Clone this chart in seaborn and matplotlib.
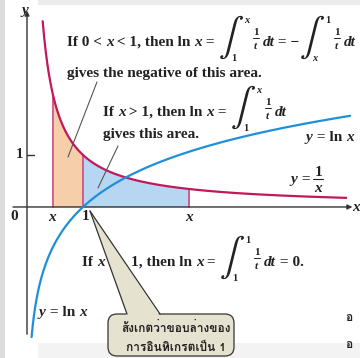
import numpy as np
import pandas as pd
import matplotlib
matplotlib.use("Agg")
import matplotlib.pyplot as plt
from matplotlib import font_manager
from matplotlib.ft2font import FT2Font
from matplotlib.font_manager import FontProperties
from matplotlib.textpath import TextPath
from matplotlib.patches import FancyBboxPatch, Polygon, Rectangle
import seaborn as sns

# Curve domains and the two shaded intervals
recip_domain = [0.28, 5.7]
log_domain = [0.082, 5.77]
left_area = [0.47, 1.0]     # 0 < x < 1  -> ln x is minus this area
right_area = [1.0, 2.9]     # x > 1      -> ln x is this area
y_tick_values = [1]
y_tick_labels = ["1"]

curve_colors = {"1/x": "#c2185b", "ln x": "#1e90d8"}
fill_left = "#f6cfaa"
fill_right = "#b7d6f2"
edge_pink = "#d4508c"
ink = "#222222"

sns.set_theme(style="white")
plt.rcParams["font.family"] = ["Liberation Serif", "DejaVu Serif"]
plt.rcParams["mathtext.fontset"] = "stix"


def find_thai_font():
    for f in font_manager.fontManager.ttflist:
        try:
            cmap = FT2Font(f.fname).get_charmap()
        except Exception:
            continue
        if 0x0E2A in cmap and 0x0E48 in cmap:
            return f.name
    return "DejaVu Sans"


thai_family = [find_thai_font(), "Liberation Serif", "DejaVu Sans"]

t_recip = np.linspace(recip_domain[0], recip_domain[1], 400)
t_log = np.geomspace(log_domain[0], log_domain[1], 400)
df = pd.concat([
    pd.DataFrame({"t": t_recip, "y": 1.0 / t_recip, "curve": "1/x"}),
    pd.DataFrame({"t": t_log, "y": np.log(t_log), "curve": "ln x"}),
])

W, H = 360, 358
fig = plt.figure(figsize=(W / 100, H / 100), dpi=100)
fig.patch.set_facecolor("white")
ax = fig.add_axes([0, 0, 1, 1])
renderer = fig.canvas.get_renderer()


def P(px, py):
    return (px / W, 1 - py / H)


# slide frame bits
fig.patches.append(Rectangle(P(38, 5), 322 / W, 5 / H, transform=fig.transFigure,
                             facecolor="#ebebeb", edgecolor="none", zorder=0))
fig.patches.append(Rectangle(P(0, H), 5 / W, 1, transform=fig.transFigure,
                             facecolor="#dcdcdc", edgecolor="none", zorder=0))
fig.patches.append(Rectangle(P(38, H), 322 / W, 15 / H, transform=fig.transFigure,
                             facecolor="#f3f3f3", edgecolor="none", zorder=0))

# shaded areas under 1/x
xl = np.linspace(left_area[0], left_area[1], 100)
xr = np.linspace(right_area[0], right_area[1], 200)
ax.fill_between(xl, 0, 1 / xl, color=fill_left, lw=0, zorder=1)
ax.fill_between(xr, 0, 1 / xr, color=fill_right, lw=0, zorder=1)
for xv in (left_area[0], left_area[1], right_area[1]):
    ax.plot([xv, xv], [0, 1 / xv], color=edge_pink, lw=1.3, zorder=2)

# axes with arrows
ax.annotate("", xy=(5.86, 0), xytext=(-0.3, 0),
            arrowprops=dict(arrowstyle="-|>", color="#333333", lw=1.0,
                            mutation_scale=7), zorder=3)
ax.annotate("", xy=(0, 3.83), xytext=(0, -2.5),
            arrowprops=dict(arrowstyle="-|>", color="#333333", lw=1.0,
                            mutation_scale=7), zorder=3)
for v, lab in zip(y_tick_values, y_tick_labels):
    ax.plot([0, 0.12], [v, v], color="#333333", lw=1.0, zorder=3)
    ax.text(-0.13, v, lab, ha="center", va="center", fontsize=10.5,
            fontweight="bold", color=ink)

sns.lineplot(data=df, x="t", y="y", hue="curve", palette=curve_colors,
             legend=False, ax=ax, lw=1.6, sort=False, zorder=4,
             estimator=None)
ax.set_xlabel("")
ax.set_ylabel("")
ax.set_xlim(-0.482, 5.946)
ax.set_ylim(-2.904, 3.98)
ax.axis("off")

FS = 11
INT_PROP = FontProperties(family="STIXGeneral")
_ib = TextPath((0, 0), "\u222b", size=1, prop=INT_PROP).get_extents()
INT_H = 43.0                       # ink height of an integral sign, px
INT_S = INT_H / _ib.height         # px per em
INT_W = _ib.width * INT_S


def put(px, py, s, size=FS, italic=False, ha="left", va="baseline", **kw):
    kw.setdefault("fontweight", "bold")
    t = fig.text(*P(px, py), s, ha=ha, va=va, fontsize=size,
                 fontstyle="italic" if italic else "normal",
                 color=ink, transform=fig.transFigure, **kw)
    return t


def width(t):
    return t.get_window_extent(renderer).width


def hline(x0, x1, y, lw=0.7):
    fig.lines.append(plt.Line2D([P(x0, 0)[0], P(x1, 0)[0]], [P(0, y)[1]] * 2,
                                transform=fig.transFigure, color=ink, lw=lw))


def integral(left, base, lower, upper):
    top = base - 30
    origin_x = left - _ib.x0 * INT_S
    origin_y = top + _ib.y1 * INT_S
    fig.text(*P(origin_x, origin_y), "\u222b", ha="left", va="baseline",
             fontsize=INT_S * 72 / 100, color=ink, family="STIXGeneral",
             transform=fig.transFigure)
    put(left + INT_W + 4, base - 23, upper, size=7.5, italic=(upper == "x"),
        ha="center")
    put(left + INT_W * 0.45 + 4, base + 15, lower, size=7.5,
        italic=(lower == "x"), ha="center")
    return INT_W


def formula(px, base, parts):
    """Lay out a run of text, italic symbols, integrals and 1/t fractions."""
    x = px
    for part in parts:
        kind = part[0]
        if kind in ("t", "i"):
            t = put(x, base, part[1], italic=(kind == "i"))
            x += width(t)
        elif kind == "int":
            w = integral(x + 1, base, part[1], part[2])
            x += w + 10
        elif kind == "frac":
            cx = x + 4
            put(cx, base - 11, "1", size=8, ha="center")
            put(cx, base + 3, "t", size=8, italic=True, ha="center")
            hline(cx - 3, cx + 3, base - 8)
            x += 10
        elif kind == "sp":
            x += part[1]
    return x


# axis labels
put(25, 14, "y", italic=True, ha="center")
put(352, 211, "x", italic=True)
put(14, 220, "0", ha="center")
put(52, 221, "x", italic=True, ha="center")
put(86, 220, "1", ha="center")
put(189, 221, "x", italic=True, ha="center")

formula(67, 46, [("t", "If 0 < "), ("i", "x"), ("t", " < 1, then ln "),
                 ("i", "x"), ("t", " = "), ("int", "1", "x"), ("frac",),
                 ("sp", 1), ("i", "dt"), ("t", " = \u2212"), ("int", "x", "1"),
                 ("frac",), ("sp", 1), ("i", "dt")])
put(67, 77, "gives the negative of this area.")
formula(103, 116, [("t", "If "), ("i", "x"), ("t", " > 1, then ln "),
                   ("i", "x"), ("t", " = "), ("int", "1", "x"), ("frac",),
                   ("sp", 1), ("i", "dt")])
put(103, 138, "gives this area.")
formula(82, 266, [("t", "If "), ("i", "x"), ("sp", 5), ("t", " = "), ("sp", 5),
                  ("t", "1, then ln "), ("i", "x"), ("t", " = "),
                  ("int", "1", "1"), ("frac",), ("sp", 1), ("i", "dt"),
                  ("t", " = 0.")])

formula(306, 141, [("i", "y"), ("t", " = ln "), ("i", "x")])
xe = formula(291, 183, [("i", "y"), ("t", " = ")])
put(xe + 4, 176, "1", ha="center")
put(xe + 4, 192, "x", italic=True, ha="center")
hline(xe - 1, xe + 9, 179, lw=0.8)
formula(39, 316, [("i", "y"), ("t", " = ln "), ("i", "x")])

# pointer lines to the shaded areas
ax.plot(*zip(((97 - 27) / 56, (207 - 82) / 52), ((68 - 27) / 56, (207 - 157) / 52)),
        color="#555555", lw=0.8, zorder=5)
ax.plot(*zip(((118 - 27) / 56, (207 - 146) / 52), ((98 - 27) / 56, (207 - 188) / 52)),
        color="#555555", lw=0.8, zorder=5)

# callout bubble
beige = "#e6e2d0"
box = FancyBboxPatch(P(108, 356), 126 / W, 42 / H, transform=fig.transFigure,
                     boxstyle="round,pad=0,rounding_size=0.025",
                     facecolor=beige, edgecolor="#333333", lw=0.9, zorder=6)
fig.patches.append(box)
tri = Polygon([P(90, 211), P(127, 316), P(160, 316)], closed=True,
              transform=fig.transFigure, facecolor=beige, edgecolor="none",
              zorder=7)
fig.patches.append(tri)
for end in (P(127, 314), P(160, 314)):
    fig.lines.append(plt.Line2D([P(90, 211)[0], end[0]], [P(90, 211)[1], end[1]],
                                transform=fig.transFigure, color="#333333",
                                lw=0.9, zorder=8))

thai = dict(fontsize=8.6, fontweight="bold", color=ink,
            transform=fig.transFigure, family=thai_family, zorder=9)
fig.text(*P(176, 327), "สังเกตว่าขอบล่างของ", ha="center", va="center", **thai)
fig.text(*P(176, 347), "การอินทิเกรตเป็น 1", ha="center", va="center", **thai)
fig.text(*P(345, 318), "อ", ha="left", va="center", **thai)
fig.text(*P(345, 345), "อ", ha="left", va="center", **thai)

fig.savefig("out.png", dpi=100)
